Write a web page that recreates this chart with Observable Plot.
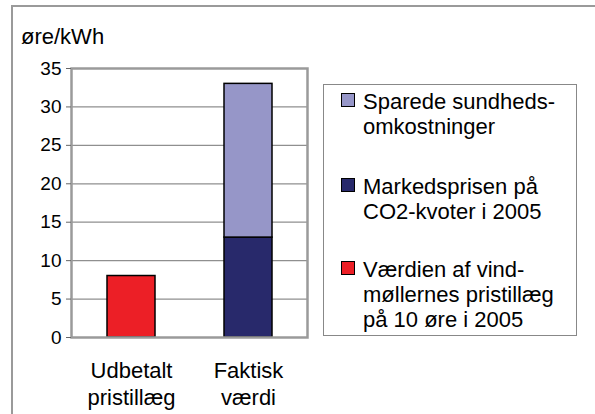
<!DOCTYPE html>
<html>
<head>
<meta charset="utf-8">
<script src="https://cdn.jsdelivr.net/npm/d3@7"></script>
<script src="https://cdn.jsdelivr.net/npm/@observablehq/plot@0.6"></script>
<style>
  html, body { margin: 0; padding: 0; background: #fff; }
  #wrap { position: relative; width: 595px; height: 414px; overflow: hidden; font-family: "Liberation Sans", Arial, sans-serif; color: #000; }
  #wrap svg { position: absolute; left: 0; top: 0; }
  .frame { position: absolute; left: 11px; top: 5px; width: 700px; height: 500px; border-top: 2px solid #9a9a9a; border-left: 2px solid #9a9a9a; box-sizing: border-box; }
  .title { position: absolute; left: 21px; top: 24px; font-size: 22px; line-height: 25px; white-space: nowrap; }
  .legend { position: absolute; left: 323px; top: 84px; width: 254px; height: 252px; border: 1px solid #888; box-sizing: border-box; background: #fff; }
  .item { position: absolute; left: 39px; font-size: 22px; line-height: 25px; white-space: nowrap; }
  .sw { position: absolute; left: -22px; top: 4px; width: 14px; height: 14px; border: 1px solid #000; box-sizing: border-box; }
</style>
</head>
<body>
<div id="wrap">
  <div class="frame"></div>
  <div class="title" id="title"></div>
  <div class="legend" id="legend"></div>
</div>
<script>
// Data
const categories = ["Udbetalt\npristillæg", "Faktisk\nværdi"];
const seriesNames = [
  "Værdien af vind-\nmøllernes pristillæg\npå 10 øre i 2005",
  "Markedsprisen på\nCO2-kvoter i 2005",
  "Sparede sundheds-\nomkostninger"
];
const seriesColors = ["#ec1f26", "#28296b", "#9696c8"];
const vaerdien = [8, 0];
const markedsprisen = [0, 13];
const sparede = [0, 20];
const yTicks = [0, 5, 10, 15, 20, 25, 30, 35];
const yTitle = "øre/kWh";

const seriesValues = [vaerdien, markedsprisen, sparede];
const rows = [];
seriesNames.forEach((s, si) => {
  categories.forEach((c, ci) => {
    rows.push({category: c, series: s, order: si, value: seriesValues[si][ci]});
  });
});

const font = "'Liberation Sans', Arial, sans-serif";

const chart = Plot.plot({
  width: 595,
  height: 414,
  marginLeft: 71,
  marginRight: 288,
  marginTop: 68,
  marginBottom: 77,
  style: {fontFamily: font, color: "#000", background: "transparent", overflow: "visible"},
  x: {domain: categories, paddingInner: 0.593, paddingOuter: 0.297, label: null},
  y: {domain: [0, 35], label: null},
  color: {domain: seriesNames, range: seriesColors},
  marks: [
    Plot.gridY(yTicks, {stroke: "#8f8f8f", strokeOpacity: 1, strokeWidth: 1.2}),
    Plot.barY(rows.filter(d => d.value > 0), Plot.stackY({
      x: "category", y: "value", fill: "series", order: "order",
      stroke: "#000", strokeWidth: 1.5, inset: 0
    })),
    Plot.frame({stroke: "#9a9a9a", strokeWidth: 2.5}),
    Plot.axisY(yTicks, {tickSize: 5, tickPadding: 5, fontSize: 19, stroke: "#666", fill: "#000", label: null}),
    Plot.axisX({tickSize: 0, tickPadding: 21, fontSize: 22, lineHeight: 1.23, fill: "#000", label: null})
  ]
});

const wrap = document.getElementById("wrap");
wrap.insertBefore(chart, wrap.firstChild);
document.getElementById("title").textContent = yTitle;

// Legend (top to bottom as in the reference)
const legend = document.getElementById("legend");
const legendTops = [4, 89, 172];
const legendOrder = [2, 1, 0];
legendOrder.forEach((si, k) => {
  const item = document.createElement("div");
  item.className = "item";
  item.style.top = legendTops[k] + "px";
  const sw = document.createElement("div");
  sw.className = "sw";
  sw.style.background = seriesColors[si];
  item.appendChild(sw);
  seriesNames[si].split("\n").forEach(line => {
    const l = document.createElement("div");
    l.textContent = line;
    item.appendChild(l);
  });
  legend.appendChild(item);
});
</script>
</body>
</html>
